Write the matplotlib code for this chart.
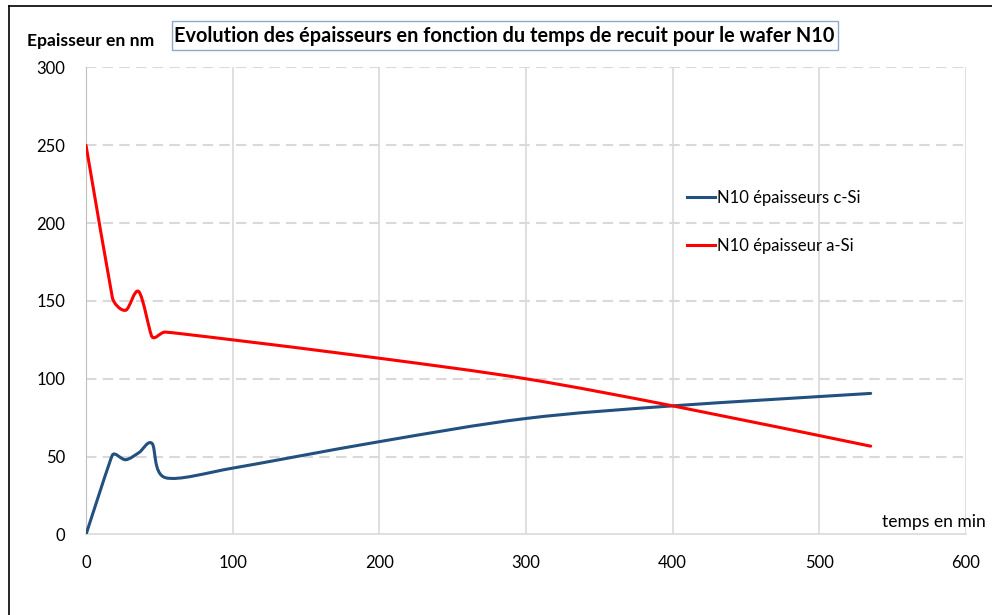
import numpy as np
import matplotlib
matplotlib.use('Agg')
import matplotlib.pyplot as plt
from matplotlib.path import Path
from matplotlib.patches import PathPatch, Rectangle
from matplotlib.lines import Line2D

plt.rcParams['font.family'] = ['Lato', 'DejaVu Sans']

# temps de recuit (min)
temps = [0, 18, 27, 36, 45, 54, 100, 200, 300, 400, 535]
# épaisseurs (nm)
ep_c_si = [0, 51, 48, 52.5, 58.5, 36.5, 42.6, 59.6, 74.5, 82.6, 90.6]
ep_a_si = [250, 152, 144, 156, 127, 130, 125, 113.2, 100, 82.6, 56.7]

nom_c_si = 'N10 épaisseurs c-Si'
nom_a_si = 'N10 épaisseur a-Si'
titre = 'Evolution des épaisseurs en fonction du temps de recuit pour le wafer N10'

bleu = '#22507f'
rouge = '#ff0000'


def courbe_lissee(ax, x, y):
    # lissage type tableur : bezier cubique entre points successifs,
    # tangentes raccourcies autour des segments courts (calcul en pixels)
    pts = np.column_stack([x, y]).astype(float)
    pix = ax.transData.transform(pts)
    n = len(pts)

    def longueur(a, b):
        return np.hypot(*(pix[b] - pix[a]))

    def tangente(i):
        ia, ib = max(i - 1, 0), min(i + 1, n - 1)
        d = longueur(ia, ib)
        court = min(longueur(j, j + 1) for j in {ia, i} if j < ib)
        f = min(1 / 6.0, 0.35 * court / d)
        return (pts[ib] - pts[ia]) * f

    verts = [pts[0]]
    codes = [Path.MOVETO]
    for i in range(n - 1):
        c1 = pts[i] + tangente(i)
        c2 = pts[i + 1] - tangente(i + 1)
        verts += [c1, c2, pts[i + 1]]
        codes += [Path.CURVE4] * 3
    return Path(verts, codes)


fig = plt.figure(figsize=(9.92, 6.15), dpi=100)
ax = fig.add_axes([0.0867, 0.131, 0.8871, 0.7593])
ax.set_xlim(0, 600)
ax.set_ylim(0, 300)

for y, c in [(ep_c_si, bleu), (ep_a_si, rouge)]:
    patch = PathPatch(courbe_lissee(ax, temps, y), facecolor='none', edgecolor=c,
                      lw=2.2, capstyle='round', joinstyle='round', zorder=3)
    ax.add_patch(patch)

ax.set_xticks(range(0, 601, 100))
ax.set_yticks(range(0, 301, 50))

for x in range(100, 601, 100):
    ax.axvline(x, color='#d9d9d9', lw=1.2, zorder=1)
for y in range(50, 301, 50):
    ax.axhline(y, color='#d9d9d9', lw=1.5, ls=(0, (5, 3)), zorder=1)

for s in ['top', 'right']:
    ax.spines[s].set_visible(False)
ax.spines['left'].set_color('#bfbfbf')
ax.spines['bottom'].set_color('#d9d9d9')
ax.spines['bottom'].set_linewidth(1.2)
ax.tick_params(length=0, labelsize=12, colors='#000000')
ax.tick_params(axis='x', pad=15)
ax.tick_params(axis='y', pad=15)

handles = [Line2D([], [], color=bleu, lw=2.2), Line2D([], [], color=rouge, lw=2.2)]
ax.legend(handles, [nom_c_si, nom_a_si], frameon=False, fontsize=12.0,
          handlelength=1.65, handletextpad=0.12, labelspacing=1.9,
          loc='upper left', bbox_to_anchor=(0.666, 0.77))

# titre encadré
fig.text(0.5085, 0.942, titre, ha='center', va='center', fontsize=14.3,
         fontweight='bold')
fig.patches.append(Rectangle((0.1734, 0.919), 0.6714, 0.047, transform=fig.transFigure,
                             fill=False, edgecolor='#8ea9c8', lw=1.0))

fig.text(0.027, 0.933, 'Epaisseur en nm', ha='left', va='center', fontsize=12.6,
         fontweight='bold')
fig.text(0.889, 0.151, 'temps en min', ha='left', va='center', fontsize=12.6)

# cadre
fig.add_artist(Line2D([0.009, 0.009], [0, 0.990], color='black', lw=1.2,
                      transform=fig.transFigure))
fig.add_artist(Line2D([0.009, 1.0], [0.990, 0.990], color='black', lw=1.2,
                      transform=fig.transFigure))

fig.savefig('out.png', dpi=100, facecolor='white')
